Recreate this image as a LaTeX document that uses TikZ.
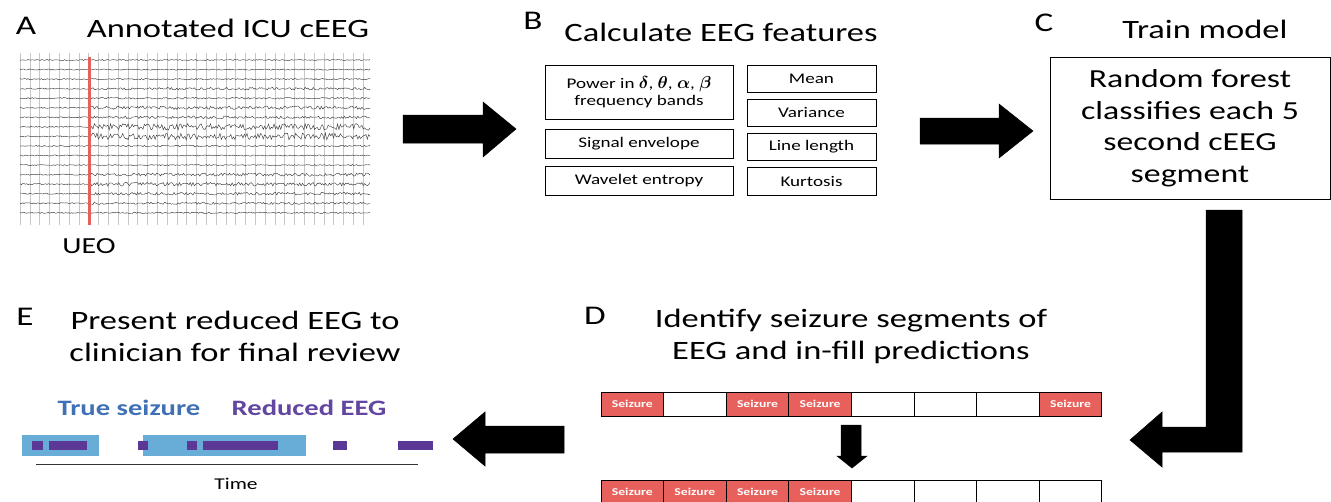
\documentclass[tikz,border=0pt]{standalone}
\usepackage{amsmath,bm}
\usepackage{fontspec}
\setmainfont{Carlito}[FakeStretch=1.3]
\definecolor{szred}{RGB}{232,96,92}
\definecolor{ltblue}{RGB}{104,172,216}
\definecolor{dpurple}{RGB}{92,56,150}
\definecolor{tblue}{RGB}{64,112,182}
\definecolor{tpurple}{RGB}{98,70,160}
\newcommand{\grk}[1]{{\fontsize{17}{17}\selectfont$\boldsymbol{#1}$}}
\tikzset{
  ttl/.style={font=\fontsize{26.5}{32}\selectfont, align=center, inner sep=0pt},
  letter/.style={font=\fontsize{27}{30}\selectfont, inner sep=0pt},
  feat/.style={draw, line width=0.7pt, font=\fontsize{14.7}{17.5}\selectfont, align=center, inner sep=0pt},
  cell/.style={draw, line width=1pt, minimum width=62.6pt, minimum height=24pt, inner sep=0pt, font=\bfseries\fontsize{10.5}{12}\selectfont, text=white},
  blockarrow/.style={fill=black, draw=black, line width=0.5pt, line join=miter},
  sbar/.style={fill=ltblue, draw=none},
  rbar/.style={fill=dpurple, draw=none},
}
\begin{document}
\begin{tikzpicture}[x=1pt,y=-1pt]
\useasboundingbox (0,0) rectangle (1331,501);
\clip (0,0) rectangle (1331,501);
\fill[white] (0,0) rectangle (1331,501);

% ---------------- Panel A ----------------
\node[letter] (lA) at (26,26) {A};
\node[ttl] (tA) at (228,28) {Annotated ICU cEEG};
\node[inner sep=0pt, minimum width=350pt, minimum height=172pt] (eeg) at (195,139) {};
\foreach \i in {0,...,35} \draw[black!22, line width=0.4pt] ({20+\i*9.8},53) -- ({20+\i*9.8},225);
\pgfmathsetseed{4242}
\foreach \k/\a in {0/0.6,1/0.6,2/0.7,3/1.3,4/0.9,5/1.7,6/1.3,7/3.2,8/3.4,9/0.8,10/0.6,11/0.6,12/1.5,13/1.8,14/1.4,15/1.1,16/0.7}{
  \pgfmathsetmacro\yy{60+\k*9.55}
  \draw[black!75, line width=0.45pt] plot[domain=20:370, samples=260] (\x, {\yy + rand*(\x<89 ? 0.6 : \a)});
}
\draw[szred, line width=3pt] (89,57) -- (89,225);
\node[font=\fontsize{23}{27}\selectfont, inner sep=0pt] (ueo) at (89,246) {UEO};

% ---------------- Panel B ----------------
\node[letter] (lB) at (533,21) {B};
\node[ttl] (tB) at (721,32) {Calculate EEG features};
\node[feat, minimum width=188pt, minimum height=54pt] (pow) at (639,92) {Power in \grk{\delta}, \grk{\theta}, \grk{\alpha}, \grk{\beta}\\frequency bands};
\node[feat, minimum width=188pt, minimum height=29pt] (env) at (639,143.5) {Signal envelope};
\node[feat, minimum width=188pt, minimum height=29pt] (went) at (639,180.5) {Wavelet entropy};
\node[feat, minimum width=129pt, minimum height=27pt] (mean) at (811.5,78.5) {Mean};
\node[feat, minimum width=129pt, minimum height=27pt] (var) at (811.5,112.5) {Variance};
\node[feat, minimum width=129pt, minimum height=27pt] (ll) at (811.5,146.5) {Line length};
\node[feat, minimum width=129pt, minimum height=28pt] (kurt) at (811.5,181) {Kurtosis};

% arrow A -> B
\fill[blockarrow] (403,115) -- (483,115) -- (483,102) -- (516,129) -- (483,157) -- (483,143) -- (403,143) -- cycle;

% ---------------- Panel C ----------------
\node[letter] (lC) at (1044,23) {C};
\node[ttl] (tC) at (1205,29) {Train model};
\node[draw, line width=0.8pt, minimum width=280pt, minimum height=142pt, inner sep=0pt,
      font=\fontsize{26}{31.5}\selectfont, align=center] (rf) at (1190,128)
      {Random forest\\classifies each 5\\second cEEG\\segment};

% arrow B -> C
\fill[blockarrow] (920,118) -- (999,118) -- (999,104) -- (1033,131) -- (999,158) -- (999,144) -- (920,144) -- cycle;

% L arrow C -> D
\fill[blockarrow] (1206,210) -- (1242,210) -- (1242,452) -- (1162,452) -- (1162,467) -- (1130,440) -- (1162,412) -- (1162,427) -- (1206,427) -- cycle;

% ---------------- Panel D ----------------
\node[letter] (lD) at (595,316) {D};
\node[ttl] (tD) at (851,336) {Identify seizure segments of\\EEG and in-fill predictions};
\foreach \i/\s in {0/1,1/0,2/1,3/1,4/0,5/0,6/0,7/1}{
  \ifnum\s=1
    \node[cell, fill=szred] (top\i) at ({601+31.3+62.6*\i},404) {Seizure};
  \else
    \node[cell, fill=white] (top\i) at ({601+31.3+62.6*\i},404) {};
  \fi
}
\foreach \i/\s in {0/1,1/1,2/1,3/1,4/0,5/0,6/0,7/0}{
  \ifnum\s=1
    \node[cell, fill=szred] (bot\i) at ({601+31.3+62.6*\i},492) {Seizure};
  \else
    \node[cell, fill=white] (bot\i) at ({601+31.3+62.6*\i},492) {};
  \fi
}
% down arrow
\fill[blockarrow] (841,425) -- (861,425) -- (861,456) -- (867,456) -- (852,468) -- (837,456) -- (841,456) -- cycle;

% arrow D -> E
\fill[blockarrow] (564,426) -- (485,426) -- (485,412) -- (453,439) -- (485,466) -- (485,453) -- (564,453) -- cycle;

% ---------------- Panel E ----------------
\node[letter] (lE) at (25,317) {E};
\node[ttl] (tE) at (235,336) {Present reduced EEG to\\clinician for final review};
\node[font=\bfseries\fontsize{22}{26}\selectfont, text=tblue, inner sep=0pt] (lgT) at (129,408) {True seizure};
\node[font=\bfseries\fontsize{22}{26}\selectfont, text=tpurple, inner sep=0pt] (lgR) at (309,408) {Reduced EEG};
\fill[sbar] (22,435) rectangle (99,456);
\fill[sbar] (143,435) rectangle (306,456);
\foreach \a/\b in {32/43,49/87,138/148,187/197,203/278,333/347,398/433}
  \fill[rbar] (\a,441) rectangle (\b,450);
\coordinate (t0) at (36,464);
\coordinate (t1) at (418,464);
\draw[black!80, line width=0.8pt] (t0) -- (t1);
\node[font=\fontsize{16.5}{19}\selectfont, inner sep=0pt] (time) at (236,484) {Time};
\end{tikzpicture}
\end{document}
